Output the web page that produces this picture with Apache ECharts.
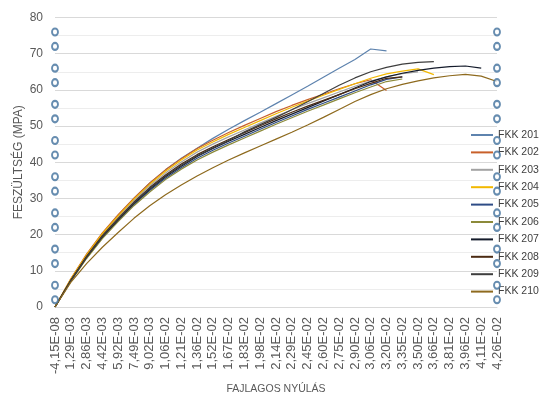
<!DOCTYPE html>
<html>
<head>
<meta charset="utf-8">
<script src="https://cdn.jsdelivr.net/npm/echarts@6/dist/echarts.min.js"></script>
<style>
  html, body { margin: 0; padding: 0; background: #fff; }
  #chart { width: 544px; height: 396px; }
</style>
</head>
<body>
<div id="chart"></div>
<script>
// x axis categories (fajlagos nyúlás)
const categories = ['-4,15E-08', '1,29E-03', '2,86E-03', '4,42E-03', '5,92E-03', '7,49E-03', '9,02E-03',
  '1,06E-02', '1,21E-02', '1,36E-02', '1,52E-02', '1,67E-02', '1,83E-02', '1,98E-02', '2,14E-02',
  '2,29E-02', '2,45E-02', '2,60E-02', '2,75E-02', '2,90E-02', '3,06E-02', '3,20E-02', '3,35E-02',
  '3,50E-02', '3,66E-02', '3,81E-02', '3,96E-02', '4,11E-02', '4,26E-02'];

// feszültség values per specimen (MPa)
const fkk201 = [0, 7.5, 14.2, 20.2, 25.3, 30.0, 34.2, 37.9, 41.1, 43.9, 46.6, 49.1, 51.5, 53.8, 56.2, 58.6, 61.0, 63.5, 66.0, 68.4, 71.3, 70.8];
const fkk202 = [0, 7.8, 14.6, 20.5, 25.5, 30.1, 34.3, 37.9, 41.0, 43.8, 46.1, 48.2, 50.2, 52.1, 54.0, 55.7, 57.3, 58.8, 60.3, 61.7, 62.8, 59.8];
const fkk203 = [0, 7.5, 14.2, 20.0, 24.9, 29.5, 33.5, 37.0, 40.1, 42.8, 45.0, 47.0, 48.9, 50.8, 52.7, 54.5, 56.2, 57.8, 59.4, 61.0, 62.4, 63.6, 64.5, 65.0];
const fkk204 = [0, 7.7, 14.4, 20.3, 25.2, 29.8, 33.9, 37.5, 40.6, 43.4, 45.6, 47.7, 49.6, 51.5, 53.4, 55.2, 56.9, 58.5, 60.1, 61.7, 63.2, 64.4, 65.2, 65.8, 64.2];
const fkk205 = [0, 7.2, 13.6, 19.2, 23.9, 28.3, 32.2, 35.6, 38.5, 41.1, 43.3, 45.3, 47.2, 49.1, 51.0, 52.8, 54.6, 56.3, 58.0, 59.7, 61.4, 62.9, 63.6];
const fkk206 = [0, 7.1, 13.4, 18.9, 23.6, 28.0, 31.8, 35.2, 38.1, 40.6, 42.8, 44.8, 46.7, 48.6, 50.5, 52.3, 54.1, 55.8, 57.5, 59.2, 60.8, 62.3, 63.0];
const fkk207 = [0, 7.3, 13.8, 19.4, 24.1, 28.6, 32.5, 36.0, 38.9, 41.6, 43.8, 45.8, 47.7, 49.6, 51.5, 53.3, 55.1, 56.9, 58.7, 60.5, 62.3, 63.6, 64.6, 65.4, 66.0, 66.4, 66.6, 66.0];
const fkk208 = [0, 7.4, 14.0, 19.7, 24.5, 29.0, 33.0, 36.5, 39.5, 42.1, 44.3, 46.3, 48.2, 50.1, 52.0, 53.8, 55.5, 57.1, 58.7, 60.3, 61.8, 63.2, 63.6];
const fkk209 = [0, 7.3, 13.8, 19.5, 24.3, 28.8, 32.8, 36.2, 39.2, 41.8, 44.0, 46.0, 48.4, 50.4, 52.4, 54.5, 56.7, 59.0, 61.3, 63.3, 65.0, 66.2, 67.1, 67.6, 67.8];
const fkk210 = [0, 6.8, 12.0, 16.5, 20.6, 24.5, 28.0, 31.0, 33.7, 36.2, 38.5, 40.6, 42.6, 44.5, 46.4, 48.3, 50.3, 52.4, 54.6, 56.8, 58.7, 60.3, 61.5, 62.5, 63.3, 63.9, 64.3, 63.8, 62.3];

const seriesNames = ['FKK 201', 'FKK 202', 'FKK 203', 'FKK 204', 'FKK 205', 'FKK 206', 'FKK 207', 'FKK 208', 'FKK 209', 'FKK 210'];
const seriesValues = [fkk201, fkk202, fkk203, fkk204, fkk205, fkk206, fkk207, fkk208, fkk209, fkk210];
const seriesColors = ['#5E83AE', '#C8602A', '#A3A3A3', '#F2B800', '#2E4C86', '#8C8A3A', '#141B2B', '#4B2A12', '#3E3E3E', '#8E6A1E'];

// marker circles at both ends of the axis
const markerLevels = [2, 6, 12, 16, 22, 26, 32, 36, 42, 46, 52, 56, 62, 66, 72, 76];

const chart = echarts.init(document.getElementById('chart'), null, { renderer: 'canvas' });

const lineSeries = seriesNames.map((name, k) => ({
  name: name,
  type: 'line',
  data: seriesValues[k],
  symbol: 'none',
  lineStyle: { width: 1.2, color: seriesColors[k] },
  itemStyle: { color: seriesColors[k] },
  z: 3
}));

const markerData = [];
markerLevels.forEach((v) => {
  markerData.push([0, v]);
  markerData.push([categories.length - 1, v]);
});

const options = {
  animation: false,
  backgroundColor: '#fff',
  textStyle: { fontFamily: 'Liberation Sans, Arial, sans-serif' },
  grid: { left: 55, right: 47, top: 17.5, bottom: 89, outerBoundsMode: 'none', containLabel: false },
  legend: {
    data: seriesNames,
    orient: 'vertical',
    left: 471,
    top: 128,
    padding: 0,
    icon: 'rect',
    itemWidth: 22,
    itemHeight: 2,
    itemGap: 3.4,
    textStyle: { fontSize: 10.5, lineHeight: 14, color: '#404040' }
  },
  xAxis: {
    type: 'category',
    data: categories,
    boundaryGap: false,
    name: 'FAJLAGOS NYÚLÁS',
    nameLocation: 'middle',
    nameGap: 77,
    nameMoveOverlap: false,
    nameTextStyle: { fontSize: 10.5, color: '#595959', verticalAlign: 'top' },
    axisLine: { show: true, lineStyle: { color: '#D9D9D9' } },
    axisTick: { show: false },
    axisLabel: { rotate: 90, interval: 0, fontSize: 13, color: '#595959', margin: 10 },
    splitLine: { show: false }
  },
  yAxis: {
    type: 'value',
    min: 0,
    max: 80,
    interval: 10,
    name: 'FESZÜLTSÉG (MPA)',
    nameLocation: 'middle',
    nameRotate: 90,
    nameGap: 30,
    nameMoveOverlap: false,
    nameTextStyle: { fontSize: 12, color: '#595959', verticalAlign: 'bottom' },
    axisLine: { show: false },
    axisTick: { show: false },
    axisLabel: { fontSize: 12, color: '#595959', margin: 12 },
    splitLine: { show: true, lineStyle: { color: '#D9D9D9', width: 1 } },
    minorTick: { show: false, splitNumber: 2 },
    minorSplitLine: { show: true, lineStyle: { color: '#EDEDED', width: 1 } }
  },
  series: lineSeries.concat([{
    name: 'markers',
    type: 'scatter',
    data: markerData,
    symbol: 'emptyCircle',
    symbolSize: [6, 7],
    itemStyle: { color: '#41719C', borderColor: '#41719C', borderWidth: 0.8 },
    z: 4
  }])
};

chart.setOption(options);
</script>
</body>
</html>
